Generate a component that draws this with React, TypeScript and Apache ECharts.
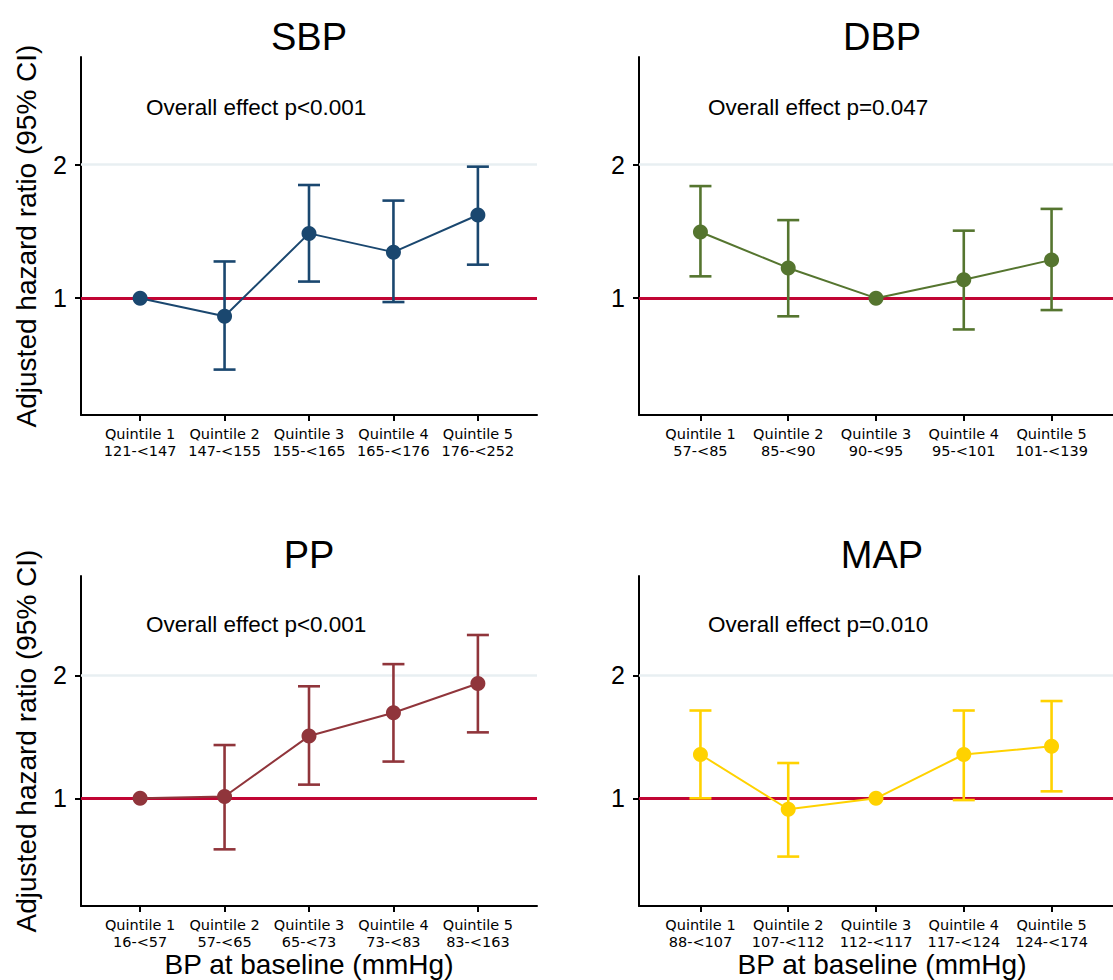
import React, { useEffect, useRef } from "react";
import * as echarts from "echarts";

// ---- data ----
const quintiles = [1, 2, 3, 4, 5];

const sbpRanges = ["121-<147", "147-<155", "155-<165", "165-<176", "176-<252"];
const dbpRanges = ["57-<85", "85-<90", "90-<95", "95-<101", "101-<139"];
const ppRanges = ["16-<57", "57-<65", "65-<73", "73-<83", "83-<163"];
const mapRanges = ["88-<107", "107-<112", "112-<117", "117-<124", "124-<174"];

const sbpHR = [1.0, 0.91, 1.4, 1.27, 1.54];
const sbpLo = [null, 0.69, 1.09, 0.98, 1.19];
const sbpHi = [null, 1.21, 1.8, 1.66, 1.98];

const dbpHR = [1.41, 1.17, 1.0, 1.1, 1.22];
const dbpLo = [1.12, 0.91, null, 0.85, 0.94];
const dbpHi = [1.79, 1.5, null, 1.42, 1.59];

const ppHR = [1.0, 1.01, 1.42, 1.62, 1.91];
const ppLo = [null, 0.75, 1.08, 1.23, 1.45];
const ppHi = [null, 1.35, 1.88, 2.13, 2.51];

const mapHR = [1.28, 0.94, 1.0, 1.28, 1.34];
const mapLo = [1.0, 0.72, null, 0.99, 1.04];
const mapHi = [1.64, 1.22, null, 1.64, 1.73];

const yTicks = [1, 2];
const pTexts = ["Overall effect p<0.001", "Overall effect p=0.047", "Overall effect p<0.001", "Overall effect p=0.010"];
const titles = ["SBP", "DBP", "PP", "MAP"];
const yTitle = "Adjusted hazard ratio (95% CI)";
const xTitle = "BP at baseline (mmHg)";

// ---- layout ----
const FONT = "'Liberation Sans', Arial, sans-serif";
const panels = [
  { title: titles[0], p: pTexts[0], color: "#1a476f", hr: sbpHR, lo: sbpLo, hi: sbpHi, ranges: sbpRanges,
    grid: { left: 81, top: 57, width: 456, height: 358 }, titleXY: [309, 37], pXY: [146, 107], yTitleXY: [26, 236], xTitleXY: null },
  { title: titles[1], p: pTexts[1], color: "#55752f", hr: dbpHR, lo: dbpLo, hi: dbpHi, ranges: dbpRanges,
    grid: { left: 639, top: 57, width: 486, height: 358 }, titleXY: [882, 37], pXY: [708, 107], yTitleXY: null, xTitleXY: null },
  { title: titles[2], p: pTexts[2], color: "#90353b", hr: ppHR, lo: ppLo, hi: ppHi, ranges: ppRanges,
    grid: { left: 81, top: 576, width: 456, height: 330 }, titleXY: [309, 555], pXY: [146, 624], yTitleXY: [26, 741], xTitleXY: [309, 964] },
  { title: titles[3], p: pTexts[3], color: "#ffd200", hr: mapHR, lo: mapLo, hi: mapHi, ranges: mapRanges,
    grid: { left: 639, top: 576, width: 486, height: 330 }, titleXY: [882, 555], pXY: [708, 624], yTitleXY: null, xTitleXY: [882, 964] },
];

export default function App() {
  const ref = useRef<HTMLDivElement>(null);
  useEffect(() => {
    if (!ref.current) return;
    const chart = echarts.init(ref.current, null, { renderer: "svg" });
    const axisLineStyle = { color: "#000", width: 2 };
    const grids: any[] = [];
    const xAxes: any[] = [];
    const yAxes: any[] = [];
    const series: any[] = [];
    const graphic: any[] = [];

    panels.forEach((pn, i) => {
      grids.push({ ...pn.grid, containLabel: false });
      xAxes.push({
        type: "value", gridIndex: i, min: 0.3, max: 5.7,
        axisLine: { show: true, onZero: false, lineStyle: axisLineStyle },
        axisTick: { show: true, length: 6, customValues: quintiles, lineStyle: axisLineStyle },
        axisLabel: {
          customValues: quintiles,
          formatter: (v: number) => `Quintile ${Math.round(v)}\n${pn.ranges[Math.round(v) - 1]}`,
          fontSize: 14.5, lineHeight: 16.5, fontFamily: "'DejaVu Sans', sans-serif", color: "#000", margin: 11,
        },
        splitLine: { show: false },
      });
      yAxes.push({
        type: "log", logBase: 2, gridIndex: i, min: 0.545, max: 3.5,
        axisLine: { show: true, onZero: false, lineStyle: axisLineStyle },
        axisTick: { show: true, length: 6, customValues: yTicks, lineStyle: axisLineStyle },
        axisLabel: { customValues: yTicks, fontSize: 25, fontFamily: FONT, color: "#000", margin: 14 },
        splitLine: { show: false },
        minorTick: { show: false },
      });
      const errData = quintiles
        .map((q, k) => (pn.lo[k] != null ? [q, pn.lo[k], pn.hi[k]] : null))
        .filter((d) => d !== null);
      series.push({
        type: "custom", xAxisIndex: i, yAxisIndex: i, z: 2,
        data: errData,
        encode: { x: 0, y: [1, 2] },
        renderItem: (params: any, api: any) => {
          const x = api.value(0);
          const top = api.coord([x, api.value(2)]);
          const bot = api.coord([x, api.value(1)]);
          const hw = 11;
          const st = { stroke: pn.color, lineWidth: 2.6 };
          return {
            type: "group",
            children: [
              { type: "line", shape: { x1: top[0], y1: top[1], x2: bot[0], y2: bot[1] }, style: st },
              { type: "line", shape: { x1: top[0] - hw, y1: top[1], x2: top[0] + hw, y2: top[1] }, style: st },
              { type: "line", shape: { x1: bot[0] - hw, y1: bot[1], x2: bot[0] + hw, y2: bot[1] }, style: st },
            ],
          };
        },
        markLine: {
          silent: true, symbol: "none", z: 1, animation: false,
          label: { show: false },
          data: [
            { yAxis: 2, lineStyle: { color: "#e8eff2", width: 2.5, type: "solid" } },
            { yAxis: 1, lineStyle: { color: "#c10534", width: 3, type: "solid" } },
          ],
        },
      });
      series.push({
        type: "line", xAxisIndex: i, yAxisIndex: i, z: 3,
        data: quintiles.map((q, k) => [q, pn.hr[k]]),
        symbol: "circle", symbolSize: 15,
        lineStyle: { color: pn.color, width: 2 },
        itemStyle: { color: pn.color },
        emphasis: { disabled: true },
      });

      graphic.push({
        type: "text", x: pn.titleXY[0], y: pn.titleXY[1],
        style: { text: pn.title, fontSize: 38, fontFamily: FONT, fill: "#000", align: "center", verticalAlign: "middle" },
      });
      graphic.push({
        type: "text", x: pn.pXY[0], y: pn.pXY[1],
        style: { text: pn.p, fontSize: 22.5, fontFamily: FONT, fill: "#000", align: "left", verticalAlign: "middle" },
      });
      if (pn.yTitleXY) {
        graphic.push({
          type: "text", x: pn.yTitleXY[0], y: pn.yTitleXY[1], rotation: Math.PI / 2,
          style: { text: yTitle, fontSize: 28, fontFamily: FONT, fill: "#000", align: "center", verticalAlign: "middle" },
        });
      }
      if (pn.xTitleXY) {
        graphic.push({
          type: "text", x: pn.xTitleXY[0], y: pn.xTitleXY[1],
          style: { text: xTitle, fontSize: 28, fontFamily: FONT, fill: "#000", align: "center", verticalAlign: "middle" },
        });
      }
    });

    chart.setOption({
      animation: false,
      backgroundColor: "#fff",
      grid: grids,
      xAxis: xAxes,
      yAxis: yAxes,
      series,
      graphic,
    });
    return () => chart.dispose();
  }, []);

  return (
    <div
      ref={ref}
      style={{ position: "absolute", left: 0, top: 0, width: 1113, height: 980, background: "#fff" }}
    />
  );
}
